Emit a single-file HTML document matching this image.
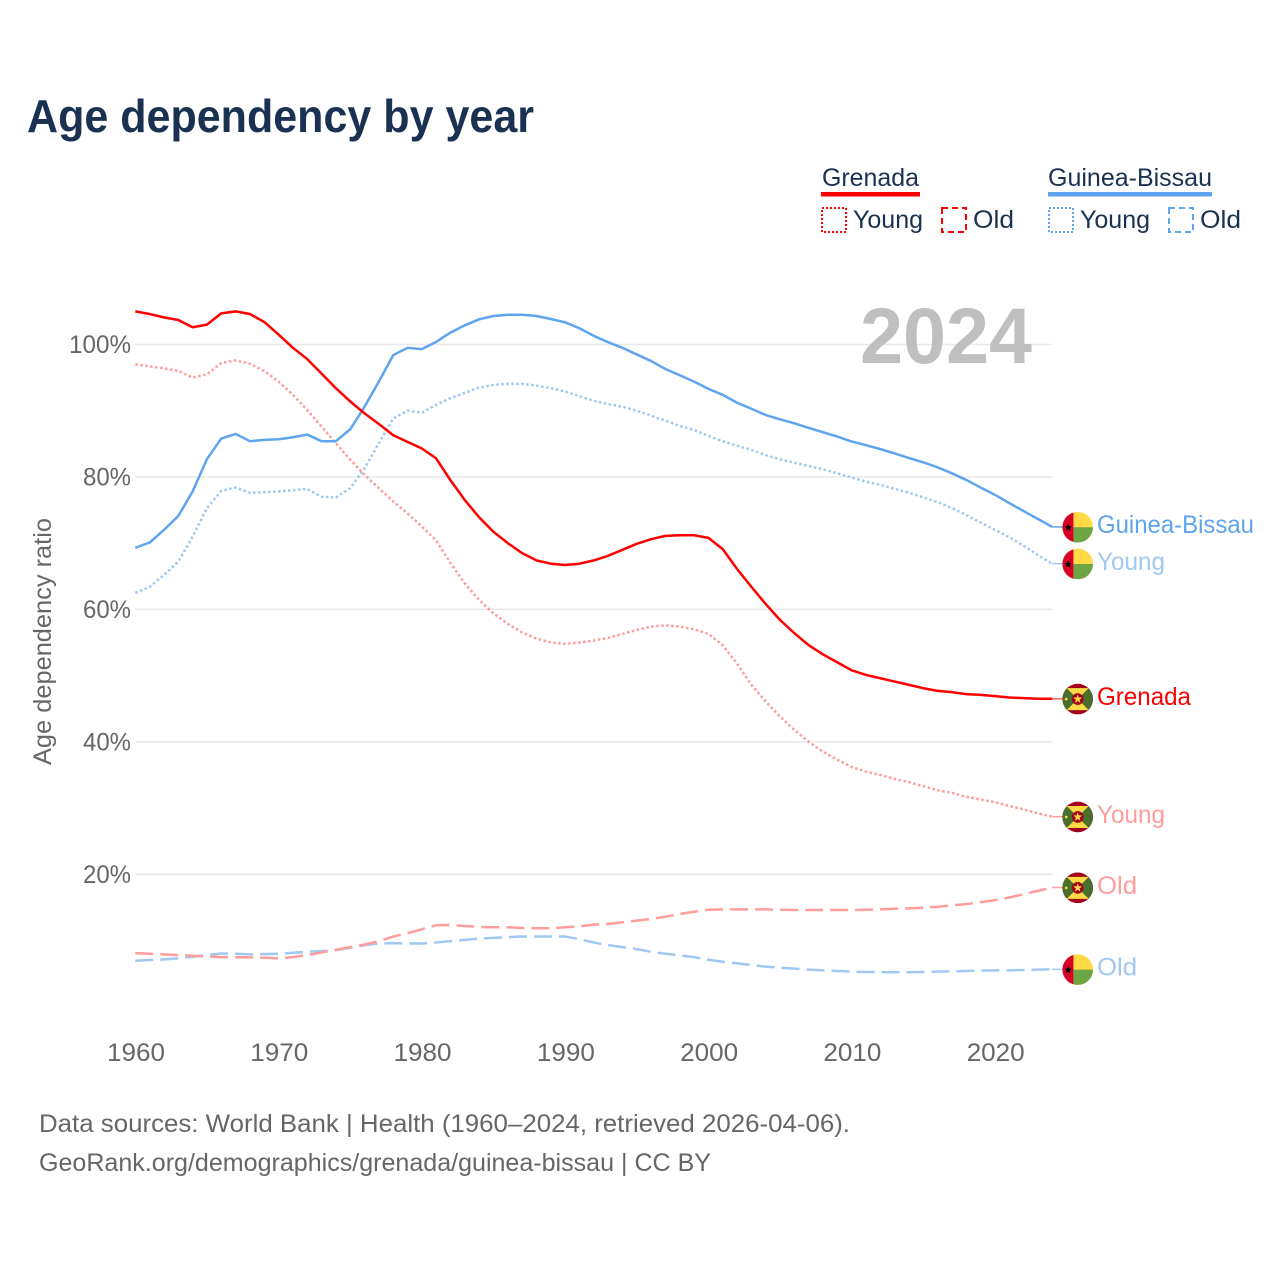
<!DOCTYPE html>
<html lang="en">
<head>
<meta charset="utf-8">
<title>Age dependency by year</title>
<style>
html,body{margin:0;padding:0;background:#fff;}
svg{display:block;font-family:"Liberation Sans",sans-serif;}
</style>
</head>
<body>
<svg id="chart" xmlns="http://www.w3.org/2000/svg" width="1280" height="1280" viewBox="0 0 1280 1280">
  <rect width="1280" height="1280" fill="#ffffff"/>
  <text x="27" y="132" font-size="46" font-weight="700" fill="#1a3152" textLength="507" lengthAdjust="spacingAndGlyphs">Age dependency by year</text>

  <g>
    <g>
      <text x="822" y="186" font-size="25" fill="#1a3152" textLength="97" lengthAdjust="spacingAndGlyphs">Grenada</text>
      <rect x="821" y="192" width="99" height="4.5" fill="#ff0000"/>
      <rect x="822" y="208" width="24" height="24" fill="none" stroke="#ff0000" stroke-width="2" stroke-dasharray="2 2"/>
      <text x="853" y="228" font-size="25" fill="#1a3152" textLength="70" lengthAdjust="spacingAndGlyphs">Young</text>
      <rect x="942" y="208" width="24" height="24" fill="none" stroke="#ff0000" stroke-width="2" stroke-dasharray="6 4"/>
      <text x="973" y="228" font-size="25" fill="#1a3152" textLength="41" lengthAdjust="spacingAndGlyphs">Old</text>
    </g>
    <g>
      <text x="1048" y="186" font-size="25" fill="#1a3152" textLength="164" lengthAdjust="spacingAndGlyphs">Guinea-Bissau</text>
      <rect x="1048" y="192" width="164" height="4.5" fill="#5ea4ee"/>
      <rect x="1049" y="208" width="24" height="24" fill="none" stroke="#5ea4ee" stroke-width="2" stroke-dasharray="2 2"/>
      <text x="1080" y="228" font-size="25" fill="#1a3152" textLength="70" lengthAdjust="spacingAndGlyphs">Young</text>
      <rect x="1169" y="208" width="24" height="24" fill="none" stroke="#5ea4ee" stroke-width="2" stroke-dasharray="6 4"/>
      <text x="1200" y="228" font-size="25" fill="#1a3152" textLength="41" lengthAdjust="spacingAndGlyphs">Old</text>
    </g>
  </g>

  <g id="grid"></g>
  <text x="860" y="363" font-size="79" font-weight="700" fill="#bfbfbf" textLength="172" lengthAdjust="spacingAndGlyphs">2024</text>
  <g id="yticks"></g>
  <g id="xticks"></g>
  <text transform="translate(51,765) rotate(-90)" font-size="25" fill="#666666" textLength="247" lengthAdjust="spacingAndGlyphs">Age dependency ratio</text>
  <g id="lines"></g>
  <g id="ends"></g>

  <text x="39" y="1132" font-size="25" fill="#666666" textLength="811" lengthAdjust="spacingAndGlyphs">Data sources: World Bank | Health (1960–2024, retrieved 2026-04-06).</text>
  <text x="39" y="1171" font-size="25" fill="#666666" textLength="672" lengthAdjust="spacingAndGlyphs">GeoRank.org/demographics/grenada/guinea-bissau | CC BY</text>
</svg>
<script>
const years = [1960,1961,1962,1963,1964,1965,1966,1967,1968,1969,1970,1971,1972,1973,1974,1975,1976,1977,1978,1979,1980,1981,1982,1983,1984,1985,1986,1987,1988,1989,1990,1991,1992,1993,1994,1995,1996,1997,1998,1999,2000,2001,2002,2003,2004,2005,2006,2007,2008,2009,2010,2011,2012,2013,2014,2015,2016,2017,2018,2019,2020,2021,2022,2023,2024];
const xTickYears = [1960,1970,1980,1990,2000,2010,2020];
const yTickValues = [20,40,60,80,100];
const grenadaTotal = [105.0,104.6,104.1,103.7,102.6,103.0,104.7,105.0,104.6,103.4,101.5,99.5,97.8,95.6,93.4,91.4,89.6,88.0,86.3,85.3,84.3,82.8,79.5,76.5,73.9,71.7,70.0,68.5,67.4,66.9,66.7,66.9,67.4,68.1,69.0,69.9,70.6,71.1,71.2,71.2,70.8,69.1,66.1,63.4,60.8,58.4,56.4,54.6,53.2,52.0,50.8,50.1,49.6,49.1,48.6,48.1,47.7,47.5,47.2,47.1,46.9,46.7,46.6,46.5,46.5];
const grenadaYoung = [97.0,96.7,96.4,96.0,95.0,95.5,97.2,97.6,97.1,96.0,94.4,92.4,90.1,87.6,85.1,82.6,80.3,78.3,76.3,74.5,72.5,70.4,67.0,63.9,61.4,59.4,57.8,56.5,55.6,55.0,54.8,55.0,55.3,55.7,56.3,56.9,57.4,57.6,57.4,57.0,56.3,54.6,51.8,48.6,46.1,43.8,41.8,40.0,38.5,37.3,36.2,35.5,35.0,34.4,33.9,33.3,32.7,32.3,31.7,31.3,30.9,30.3,29.8,29.2,28.7];
const grenadaOld = [8.1,8.0,7.9,7.8,7.7,7.6,7.5,7.5,7.45,7.4,7.3,7.5,7.8,8.2,8.6,9.0,9.4,9.9,10.6,11.1,11.7,12.3,12.35,12.2,12.05,12.0,12.0,11.9,11.85,11.85,12.0,12.15,12.4,12.5,12.75,13.0,13.25,13.6,14.0,14.35,14.65,14.7,14.7,14.7,14.7,14.65,14.6,14.6,14.6,14.6,14.6,14.65,14.7,14.8,14.85,14.95,15.1,15.3,15.5,15.8,16.1,16.5,17.0,17.5,18.0];
const guineaBissauTotal = [69.3,70.1,72.0,74.1,77.8,82.7,85.8,86.5,85.4,85.6,85.7,86.0,86.4,85.4,85.4,87.2,90.6,94.4,98.4,99.5,99.3,100.4,101.8,102.9,103.8,104.3,104.5,104.5,104.3,103.85,103.35,102.45,101.3,100.35,99.5,98.5,97.5,96.3,95.35,94.4,93.3,92.4,91.2,90.3,89.35,88.7,88.1,87.4,86.75,86.1,85.35,84.8,84.2,83.55,82.85,82.2,81.45,80.55,79.55,78.4,77.3,76.05,74.85,73.65,72.45];
const guineaBissauYoung = [62.5,63.4,65.2,67.2,71.0,75.3,77.9,78.4,77.6,77.7,77.8,78.0,78.2,77.0,76.9,78.3,81.3,85.1,88.85,90.0,89.7,90.9,91.9,92.7,93.5,93.9,94.05,94.05,93.8,93.4,92.9,92.2,91.5,91.0,90.6,90.0,89.25,88.5,87.7,87.1,86.2,85.4,84.7,84.1,83.3,82.65,82.15,81.65,81.15,80.55,79.9,79.3,78.8,78.2,77.6,76.9,76.2,75.3,74.25,73.1,72.0,70.9,69.6,68.2,66.9];
const guineaBissauOld = [6.95,7.05,7.15,7.3,7.55,7.8,8.05,8.0,7.9,7.95,8.0,8.15,8.3,8.4,8.55,8.9,9.3,9.55,9.6,9.55,9.55,9.7,9.9,10.1,10.3,10.4,10.5,10.6,10.6,10.6,10.6,10.2,9.7,9.3,9.0,8.7,8.3,8.0,7.75,7.5,7.1,6.8,6.55,6.3,6.05,5.9,5.75,5.6,5.5,5.4,5.3,5.25,5.2,5.2,5.2,5.25,5.3,5.35,5.4,5.45,5.5,5.5,5.55,5.6,5.65];

const NS = 'http://www.w3.org/2000/svg';
function xScale(year) { return 135.3 + (year - 1960) * (1052.3 - 135.3) / 64; }
function yScale(value) { return 1006.75 - value * 6.6225; }
function make(tag, attrs, parent) {
  const node = document.createElementNS(NS, tag);
  for (const k in attrs) node.setAttribute(k, attrs[k]);
  parent.appendChild(node);
  return node;
}
function starPoints(cx, cy, r) {
  const pts = [];
  for (let i = 0; i < 10; i++) {
    const rad = i % 2 ? r * 0.42 : r;
    const a = -Math.PI / 2 + i * Math.PI / 5;
    pts.push((cx + rad * Math.cos(a)).toFixed(2) + ',' + (cy + rad * Math.sin(a)).toFixed(2));
  }
  return pts.join(' ');
}

const gridLayer = document.getElementById('grid');
const yTickLayer = document.getElementById('yticks');
const xTickLayer = document.getElementById('xticks');
const lineLayer = document.getElementById('lines');
const endLayer = document.getElementById('ends');

yTickValues.forEach(function (v) {
  const line = make('line', {x1: xScale(1960), x2: xScale(2024), y1: yScale(v), y2: yScale(v), stroke: '#e8e8e8', 'stroke-width': 1.5}, gridLayer);
  
  
  const label = make('text', {x: 131, y: yScale(v) + 8.5, 'text-anchor': 'end', 'font-size': 25, fill: '#666666', textLength: v === 100 ? 62 : 48, lengthAdjust: 'spacingAndGlyphs'}, yTickLayer);
  label.textContent = v + '%';
  
  
});

xTickYears.forEach(function (yr) {
  const label = make('text', {x: xScale(yr) + 0.7, y: 1061, 'text-anchor': 'middle', 'font-size': 25, fill: '#666666', textLength: 58, lengthAdjust: 'spacingAndGlyphs'}, xTickLayer);
  label.textContent = String(yr);
  
  
});

function drawLine(name, values, color, width, dash) {
  const d = values.map(function (v, i) {
    return (i ? 'L' : 'M') + xScale(years[i]).toFixed(2) + ' ' + yScale(v).toFixed(2);
  }).join('');
  const attrs = {d: d, fill: 'none', stroke: color, 'stroke-width': width, 'stroke-linejoin': 'round'};
  if (dash) attrs['stroke-dasharray'] = dash;
  const path = make('path', attrs, lineLayer);
  
  
}

let flagCount = 0;
function drawFlag(country, cx, cy, parent) {
  flagCount += 1;
  const id = 'flag-clip-' + flagCount;
  const clip = make('clipPath', {id: id}, parent);
  make('circle', {cx: cx, cy: cy, r: 15.3}, clip);
  const g = make('g', {'clip-path': 'url(#' + id + ')'}, parent);
  
  
  const l = cx - 16, t = cy - 16;
  if (country === 'guinea-bissau') {
    make('rect', {x: l, y: t, width: 32, height: 32, fill: '#ffda44'}, g);
    make('rect', {x: cx - 4.3, y: cy, width: 21, height: 16, fill: '#6da544'}, g);
    make('rect', {x: l, y: t, width: 11.7, height: 32, fill: '#d80027'}, g);
    make('polygon', {points: starPoints(cx - 9.5, cy + 0.3, 4), fill: '#000000'}, g);
  } else {
    const it = cy - 11, ib = cy + 11;
    make('rect', {x: l, y: t, width: 32, height: 32, fill: '#a2001d'}, g);
    make('rect', {x: l, y: it, width: 32, height: 22, fill: '#496e2d'}, g);
    make('polygon', {points: (cx - 11) + ',' + it + ' ' + (cx + 11) + ',' + it + ' ' + cx + ',' + cy, fill: '#ffda44'}, g);
    make('polygon', {points: (cx - 11) + ',' + ib + ' ' + (cx + 11) + ',' + ib + ' ' + cx + ',' + cy, fill: '#ffda44'}, g);
    make('circle', {cx: cx, cy: cy, r: 5.8, fill: '#a2001d'}, g);
    make('polygon', {points: starPoints(cx, cy, 4.6), fill: '#ffda44'}, g);
    make('circle', {cx: cx - 11.5, cy: cy, r: 1.4, fill: '#ffda44'}, g);
  }
}

function drawEnd(name, country, text, values, color, textColor, labelWidth) {
  const y = yScale(values[values.length - 1]);
  const x = xScale(years[years.length - 1]);
  const g = make('g', {}, endLayer);
  
  
  const lead = make('line', {x1: x, x2: x + 11, y1: y, y2: y, stroke: color, 'stroke-width': 1.5}, g);
  
  
  drawFlag(country, 1077.7, y + 0.3, g);
  const label = make('text', {x: 1097, y: y + 6.3, 'font-size': 25, fill: textColor, textLength: labelWidth, lengthAdjust: 'spacingAndGlyphs'}, g);
  label.textContent = text;
  
  
}

const RED = '#ff0000', BLUE = '#5ea4ee', LRED = '#ff9c9c', LBLUE = '#a0c8f2';
const DOT = '2.5 2.5', DASH = '18 7';
drawLine('line-guinea-bissau-old', guineaBissauOld, LBLUE, 2.5, DASH);
drawLine('line-grenada-old', grenadaOld, LRED, 2.5, DASH);
drawLine('line-guinea-bissau-young', guineaBissauYoung, LBLUE, 2.5, DOT);
drawLine('line-grenada-young', grenadaYoung, LRED, 2.5, DOT);
drawLine('line-guinea-bissau-total', guineaBissauTotal, BLUE, 2.5, null);
drawLine('line-grenada-total', grenadaTotal, RED, 2.5, null);

drawEnd('end-guinea-bissau-total', 'guinea-bissau', 'Guinea-Bissau', guineaBissauTotal, BLUE, BLUE, 157);
drawEnd('end-guinea-bissau-young', 'guinea-bissau', 'Young', guineaBissauYoung, LBLUE, LBLUE, 68);
drawEnd('end-grenada-total', 'grenada', 'Grenada', grenadaTotal, '#ff6060', RED, 94);
drawEnd('end-grenada-young', 'grenada', 'Young', grenadaYoung, LRED, LRED, 68);
drawEnd('end-grenada-old', 'grenada', 'Old', grenadaOld, LRED, LRED, 40);
drawEnd('end-guinea-bissau-old', 'guinea-bissau', 'Old', guineaBissauOld, LBLUE, LBLUE, 40);
</script>
</body>
</html>
